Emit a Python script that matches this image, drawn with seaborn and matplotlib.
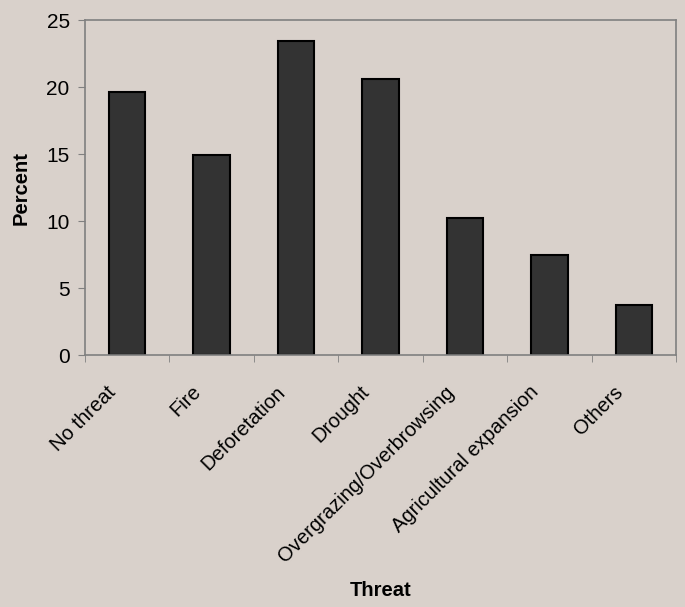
import numpy as np
import pandas as pd
import matplotlib
matplotlib.use("Agg")
import matplotlib.pyplot as plt
import matplotlib.transforms as mtransforms
import seaborn as sns
from matplotlib.ticker import FixedLocator

threats = ["No threat", "Fire", "Deforetation", "Drought",
           "Overgrazing/Overbrowsing", "Agricultural expansion", "Others"]
percent = [19.6, 14.9, 23.4, 20.6, 10.25, 7.5, 3.75]
y_ticks = [0, 5, 10, 15, 20, 25]


def main():
    df = pd.DataFrame({"Threat": threats, "Percent": percent})

    sns.set_style("white")
    plt.rcParams["font.family"] = ["Liberation Sans", "DejaVu Sans"]
    plt.rcParams["text.color"] = "black"
    plt.rcParams["axes.labelcolor"] = "black"
    plt.rcParams["xtick.color"] = "black"
    plt.rcParams["ytick.color"] = "black"

    bg = "#d9d1cb"
    fig = plt.figure(figsize=(6.85, 6.07), dpi=100, facecolor=bg)
    ax = fig.add_axes([0.124, 0.415, 0.863, 0.552])
    ax.set_facecolor(bg)

    sns.barplot(data=df, x="Threat", y="Percent", color="#333333",
                edgecolor="black", linewidth=1.5, width=0.43,
                saturation=1, ax=ax)

    ax.set_xlim(-0.5, len(threats) - 0.5)
    ax.set_ylim(0, 25)
    ax.set_yticks(y_ticks)
    ax.tick_params(axis="y", labelsize=15, length=5, color="#808080",
                   labelcolor="black", direction="out", left=True, pad=6)
    ax.tick_params(axis="x", which="major", length=0, labelsize=14.5,
                   labelcolor="black", pad=10)
    ax.xaxis.set_minor_locator(FixedLocator(np.arange(-0.5, len(threats), 1.0)))
    ax.tick_params(axis="x", which="minor", length=5, color="#808080",
                   direction="out", bottom=True)
    # shift the slanted labels a bit left and down, like the original
    shift = mtransforms.ScaledTranslation(-14 / 100, -20 / 100, fig.dpi_scale_trans)
    for lab in ax.get_xticklabels():
        lab.set_rotation(45)
        lab.set_ha("right")
        lab.set_va("center")
        lab.set_rotation_mode("anchor")
        lab.set_transform(lab.get_transform() + shift)

    for sp in ax.spines.values():
        sp.set_color("#808080")
        sp.set_linewidth(1.2)

    ax.set_xlabel("Threat", fontsize=14.5, fontweight="bold")
    ax.xaxis.set_label_coords(0.5, -0.675)
    ax.set_ylabel("Percent", fontsize=14.5, fontweight="bold", labelpad=11)

    fig.savefig("out.png", dpi=100, facecolor=bg)


if __name__ == "__main__":
    main()
